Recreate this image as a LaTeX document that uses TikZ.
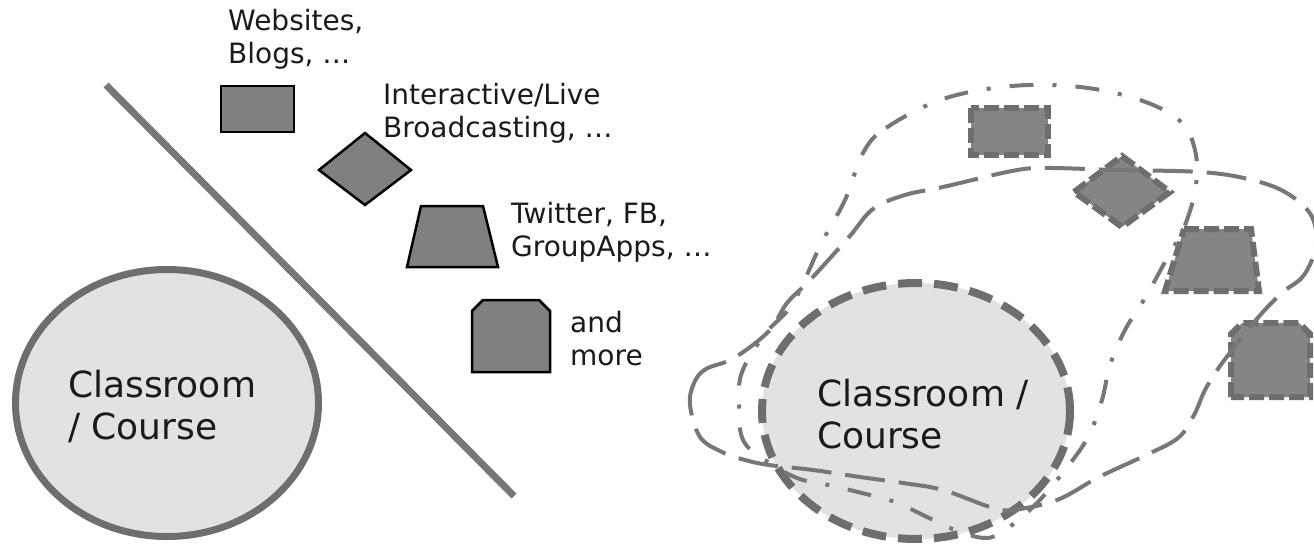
\documentclass[tikz,border=0pt]{standalone}
\usepackage{fontspec}
\setmainfont{DejaVu Sans}
\definecolor{txt}{HTML}{1A1A1A}
\definecolor{rim}{HTML}{6E6E6E}
\definecolor{lfill}{HTML}{E2E2E2}
\definecolor{shp}{HTML}{808080}
\definecolor{shp2}{HTML}{858585}
\definecolor{curve}{HTML}{777777}
\begin{document}
\begin{tikzpicture}[x=1pt,y=-1pt,
  solidshape/.style={fill=shp, draw=black, line width=2.5pt, line join=miter},
  dashshape/.style={fill=shp2, draw=rim, line width=6pt, dash pattern=on 15pt off 5pt},
  lbl/.style={font=\fontsize{28}{33}\selectfont, anchor=base west, align=left, inner sep=0pt, text=txt},
  biglbl/.style={font=\fontsize{36}{42}\selectfont, anchor=base west, align=left, inner sep=0pt, text=txt},
  dashdotcurve/.style={draw=curve, line width=4pt, dash pattern=on 24pt off 19pt on 4pt off 19pt},
  longdashcurve/.style={draw=curve, line width=4pt, dash pattern=on 40pt off 14pt}]
\useasboundingbox (0,0) rectangle (1314,546);
\clip (0,0) rectangle (1314,546);
\fill[white] (0,0) rectangle (1314,546);

% ---------- left half ----------
\draw[rim, line width=7pt, fill=lfill] (167,403) ellipse [x radius=151.5, y radius=133.5];
\node[biglbl] (classL) at (68,439) {Classroom\\/ Course};

\coordinate (divA) at (106,85);
\coordinate (divB) at (514,496);
\draw[curve, line width=7pt] (divA) -- (divB);

\draw[solidshape] (221,86) rectangle (294,132);
\draw[solidshape] (319,170) -- (365,133) -- (411,170) -- (365,205) -- cycle;
\draw[solidshape] (421,206) -- (483,206) -- (498,267) -- (407,267) -- cycle;
\draw[solidshape] (472,372) -- (472,311) -- (483,300) -- (539,300) -- (550,311) -- (550,372) -- cycle;

\node[lbl] (websites) at (228,63) {Websites,\\Blogs, …};
\node[lbl] (interactive) at (383,137.5) {Interactive/Live\\Broadcasting, …};
\node[lbl] (twitter) at (511,256) {Twitter, FB,\\GroupApps, …};
\node[lbl] (more) at (570,365) {and\\more};

% ---------- right half ----------
\draw[rim, line width=8pt, fill=lfill, dash pattern=on 24pt off 12pt] (916,411) ellipse [x radius=154, y radius=128];

\draw[dashshape] (971,108) rectangle (1048,155);
\draw[dashshape] (1074,192) -- (1122,156) -- (1170,192) -- (1122,227) -- cycle;
\draw[dashshape] (1184,229) -- (1251,229) -- (1259,291) -- (1165,291) -- cycle;
\draw[dashshape] (1231,397) -- (1231,334) -- (1242,323) -- (1299,323) -- (1310,334) -- (1310,397) -- cycle;

% dash-dot loop
\draw[dashdotcurve] plot[smooth cycle, tension=0.6] coordinates {
  (863,153) (886,128) (943,99) (1012,86) (1080,87) (1140,100) (1180,121)
  (1195,150) (1196,185) (1185,225) (1165,262) (1145,298) (1125,330)
  (1110,365) (1102,400) (1088,437) (1065,470) (1035,505) (1005,530)
  (985,538) (955,530) (927,517) (895,502) (862,493) (828,485) (797,478)
  (765,460) (743,440) (739,405) (742,372) (765,334) (793,303) (821,244) (845,200)};

% long-dash loop
\draw[longdashcurve] plot[smooth cycle, tension=0.6] coordinates {
  (690,405) (694,383) (706,369) (734,358) (769,331) (787,303) (811,279)
  (849,237) (873,209) (905,195) (943,187) (1012,171) (1046,168)
  (1116,170) (1200,172) (1248,179) (1285,192) (1311,215) (1316,245)
  (1304,275) (1283,292) (1262,313) (1240,340) (1220,366) (1205,390)
  (1194,415) (1178,438) (1144,456) (1099,477) (1057,500) (1012,510)
  (990,507) (943,490) (903,483) (860,477) (813,470) (769,465) (745,460)
  (722,452) (700,437)};

\node[biglbl] (classR) at (817,448.5) {Classroom /\\Course};
\end{tikzpicture}
\end{document}
